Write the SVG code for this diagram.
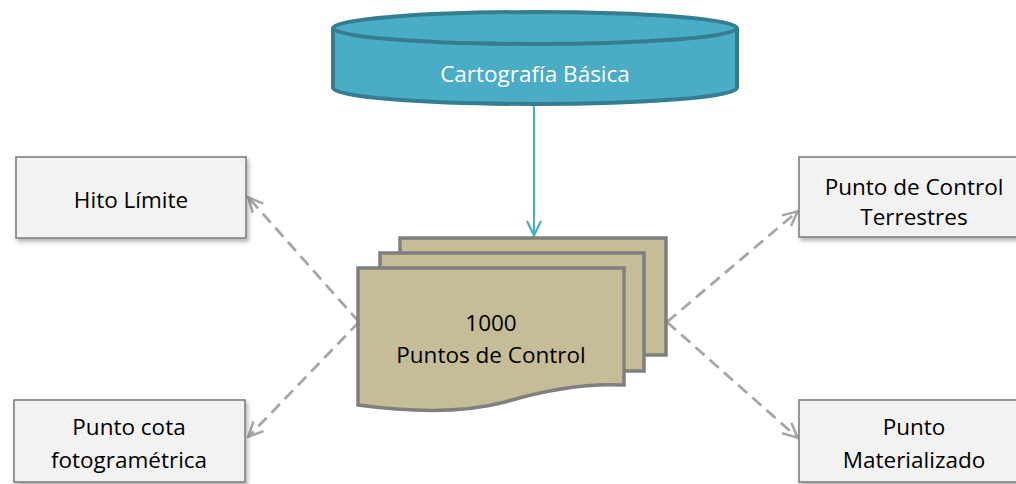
<svg xmlns="http://www.w3.org/2000/svg" width="1016" height="484" viewBox="0 0 1016 484">
<style>
.lbl{font-family:"Open Sans","Liberation Sans",sans-serif;font-size:22.5px;fill:#000;text-anchor:middle}
.box{fill:#F2F2F2;stroke:#7F7F7F;stroke-width:1.6;filter:url(#sh)}
.doc{fill:#C4BD97;stroke:#7F7F7F;stroke-width:3.5}
.dash{fill:none;stroke:#A6A6A6;stroke-width:2.8;stroke-dasharray:12,7;marker-end:url(#ag)}
</style>
<defs>
<filter id="sh" x="-10%" y="-10%" width="130%" height="140%">
<feDropShadow dx="2" dy="3" stdDeviation="2" flood-color="#000" flood-opacity="0.3"/>
</filter>
<marker id="ag" viewBox="0 0 18 18" refX="17" refY="9" markerWidth="18" markerHeight="18" markerUnits="userSpaceOnUse" orient="auto">
<path d="M2,2 L16.5,9 L2,16" fill="none" stroke="#A6A6A6" stroke-width="2.5"/>
</marker>
<marker id="ab" viewBox="0 0 18 18" refX="17" refY="9" markerWidth="18" markerHeight="18" markerUnits="userSpaceOnUse" orient="auto">
<path d="M2,2 L16.5,9 L2,16" fill="none" stroke="#4BACC6" stroke-width="2.2"/>
</marker>
</defs>
<g id="connectors">
<line x1="534" y1="106" x2="534" y2="236" stroke="#4BACC6" stroke-width="2" marker-end="url(#ab)"/>
<line class="dash" x1="359" y1="322" x2="248" y2="197"/>
<line class="dash" x1="359" y1="322" x2="248" y2="437"/>
<line class="dash" x1="667" y1="322" x2="798" y2="211"/>
<line class="dash" x1="667" y1="322" x2="798" y2="438"/>
</g>
<g id="cartografia">
<path d="M333,28 V88 A202,16 0 0 0 737,88 V28" fill="#4BACC6" stroke="#357D91" stroke-width="4"/>
<ellipse cx="535" cy="28" rx="202" ry="16" fill="#4BACC6" stroke="#357D91" stroke-width="4"/>
<text x="535" y="82" class="lbl" style="fill:#fff">Cartografía Básica</text>
</g>
<g id="puntos">
<rect class="doc" x="400" y="238" width="266" height="117"/>
<rect class="doc" x="380" y="253" width="264" height="118"/>
<path class="doc" d="M358,268 H624 V385 C585,383 545,390 505,402 C460,414 410,412 358,405 Z"/>
<text x="491" y="331" class="lbl">1000</text>
<text x="491" y="363" class="lbl">Puntos de Control</text>
</g>
<g id="hito">
<rect class="box" x="16" y="157" width="230" height="81"/>
<text x="131" y="208" class="lbl">Hito Límite</text>
</g>
<g id="cota">
<rect class="box" x="14" y="400" width="231" height="82"/>
<text x="129" y="435" class="lbl">Punto cota</text>
<text x="129" y="468" class="lbl">fotogramétrica</text>
</g>
<g id="terrestres">
<rect class="box" x="799" y="157" width="230" height="80"/>
<text x="914" y="195" class="lbl">Punto de Control</text>
<text x="914" y="225" class="lbl">Terrestres</text>
</g>
<g id="materializado">
<rect class="box" x="799" y="400" width="230" height="82"/>
<text x="914" y="435" class="lbl">Punto</text>
<text x="914" y="468" class="lbl">Materializado</text>
</g>
</svg>
